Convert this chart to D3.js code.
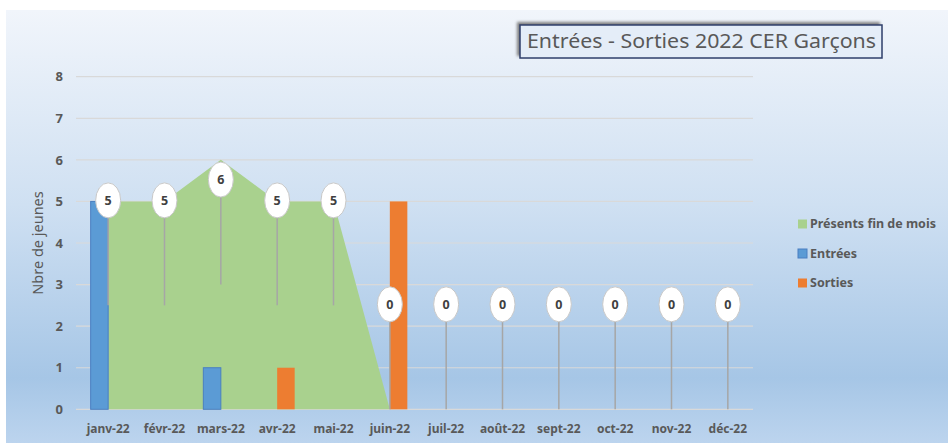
<!DOCTYPE html>
<html>
<head>
<meta charset="utf-8">
<script src="https://cdn.jsdelivr.net/npm/d3@7"></script>
<style>
  html, body { margin: 0; padding: 0; background: #fff; }
  svg { display: block; }
  text { font-family: "Noto Sans", "Open Sans", sans-serif; }
</style>
</head>
<body>
<svg id="chart" width="948" height="443"></svg>
<script>
// data
const months = ["janv-22", "févr-22", "mars-22", "avr-22", "mai-22", "juin-22",
                "juil-22", "août-22", "sept-22", "oct-22", "nov-22", "déc-22"]
const presents = [5, 5, 6, 5, 5, 0, 0, 0, 0, 0, 0, 0]
const entrees  = [5, 0, 1, 0, 0, 0, 0, 0, 0, 0, 0, 0]
const sorties  = [0, 0, 0, 1, 0, 5, 0, 0, 0, 0, 0, 0]
const yTicks = [0, 1, 2, 3, 4, 5, 6, 7, 8]
const seriesNames = ["Présents fin de mois", "Entrées", "Sorties"]
const colors = {"Présents fin de mois": "#a9d18e", "Entrées": "#5b9bd5", "Sorties": "#ed7d31"}

const svg = d3.select("#chart")

// background gradient
let defs = svg.append("defs")
let grad = defs.append("linearGradient")
    .attr("id", "bg").attr("x1", 0).attr("y1", 0).attr("x2", 0).attr("y2", 1)
grad.append("stop").attr("offset", "0%").attr("stop-color", "#f1f5fb")
grad.append("stop").attr("offset", "45%").attr("stop-color", "#cfe0f2")
grad.append("stop").attr("offset", "85%").attr("stop-color", "#a6c6e6")
grad.append("stop").attr("offset", "100%").attr("stop-color", "#bcd4ee")

let blur = defs.append("filter").attr("id", "shadow")
    .attr("x", "-10%").attr("y", "-50%").attr("width", "120%").attr("height", "200%")
blur.append("feGaussianBlur").attr("stdDeviation", 1.5)

svg.append("rect")
    .attr("x", 6).attr("y", 10)
    .attr("width", 942).attr("height", 433)
    .attr("fill", "url(#bg)")

// scales
let x = d3.scaleBand().domain(months).range([80, 756]).padding(0)
let y = d3.scaleLinear().domain([0, 8]).range([409.3, 76.7])
let xBar = d3.scaleBand().domain(["Entrées", "Sorties"]).range([-17.5, 17.5])
let cx = m => x(m) + x.bandwidth() / 2

// gridlines
svg.append("g")
    .selectAll("line")
    .data(yTicks)
    .join("line")
    .attr("x1", 76).attr("x2", 753)
    .attr("y1", d => y(d)).attr("y2", d => y(d))
    .attr("stroke", "#d9d9d9")
    .attr("stroke-width", 1.2)

// y axis labels
let yAxis = d3.axisLeft(y).tickValues(yTicks).tickSize(0).tickPadding(0).tickFormat(d3.format("d"))
let yg = svg.append("g").attr("transform", "translate(63,0)").call(yAxis)
yg.select(".domain").remove()
yg.selectAll("text")
    .attr("fill", "#595959")
    .attr("font-size", 13)
    .attr("font-weight", "bold")

// x axis labels
let xAxis = d3.axisBottom(x).tickSize(0).tickPadding(0)
let xg = svg.append("g").attr("transform", "translate(0,424)").call(xAxis)
xg.select(".domain").remove()
xg.selectAll("text")
    .attr("fill", "#595959")
    .attr("font-size", 12)
    .attr("font-weight", "bold")

// axis title
svg.append("text")
    .attr("transform", "translate(43,243) rotate(-90)")
    .attr("text-anchor", "middle")
    .attr("fill", "#595959")
    .attr("font-size", 14.5)
    .text("Nbre de jeunes")

// area for présents
let areaData = months.map((m, i) => ({m: m, v: presents[i]}))
let area = d3.area()
    .x(d => cx(d.m))
    .y0(y(0))
    .y1(d => y(d.v))
svg.append("path")
    .datum(areaData)
    .attr("d", area)
    .attr("fill", colors["Présents fin de mois"])

// bars
let barData = []
months.forEach((m, i) => {
    if (entrees[i] > 0) barData.push({m: m, s: "Entrées", v: entrees[i]})
    if (sorties[i] > 0) barData.push({m: m, s: "Sorties", v: sorties[i]})
})
svg.append("g")
    .selectAll("rect")
    .data(barData)
    .join("rect")
    .attr("x", d => cx(d.m) + xBar(d.s))
    .attr("width", xBar.bandwidth())
    .attr("y", d => y(d.v))
    .attr("height", d => y(0) - y(d.v))
    .attr("fill", d => colors[d.s])
    .attr("stroke", d => d.s == "Entrées" ? "#4a7fc1" : "none")
    .attr("stroke-width", 1)

// callout labels for présents (anchored at middle of area, dragged up)
let labelOffset = 105
let ry = 17.5
let labels = svg.append("g")
    .selectAll("g")
    .data(areaData)
    .join("g")
    .attr("transform", d => `translate(${cx(d.m)},${y(d.v / 2) - labelOffset})`)

labels.append("line")
    .attr("x1", 0).attr("x2", 0)
    .attr("y1", ry)
    .attr("y2", labelOffset)
    .attr("stroke", "#a6a6a6")
    .attr("stroke-width", 1.5)

labels.append("ellipse")
    .attr("rx", 12.5).attr("ry", ry)
    .attr("fill", "#fff")
    .attr("stroke", "#c8c8c8")
    .attr("stroke-width", 1)

labels.append("text")
    .attr("text-anchor", "middle")
    .attr("dy", "0.36em")
    .attr("fill", "#404040")
    .attr("font-size", 12.5)
    .attr("font-weight", "bold")
    .text(d => d.v)

// legend
let legend = svg.append("g")
    .selectAll("g")
    .data(seriesNames)
    .join("g")
    .attr("transform", (d, i) => `translate(798,${224 + i * 29.5})`)
legend.append("rect")
    .attr("x", 0).attr("y", -4.5)
    .attr("width", 9).attr("height", 9)
    .attr("fill", d => colors[d])
    .attr("stroke", d => d == "Entrées" ? "#4a7fc1" : "none")
legend.append("text")
    .attr("x", 12)
    .attr("dy", "0.35em")
    .attr("fill", "#595959")
    .attr("font-size", 12.5)
    .attr("font-weight", "bold")
    .text(d => d)

// title box
let title = svg.append("g")
title.append("rect")
    .attr("x", 517).attr("y", 22)
    .attr("width", 363).attr("height", 34)
    .attr("fill", "#7f7f7f")
    .attr("filter", "url(#shadow)")
title.append("rect")
    .attr("x", 520).attr("y", 25)
    .attr("width", 362).attr("height", 33)
    .attr("fill", "#e4edf8")
    .attr("stroke", "#2f3f6b")
    .attr("stroke-width", 1.5)
title.append("text")
    .attr("x", 527).attr("y", 48)
    .attr("fill", "#595959")
    .attr("font-size", 20)
    .attr("textLength", 349)
    .attr("lengthAdjust", "spacingAndGlyphs")
    .text("Entrées - Sorties 2022 CER Garçons")
</script>
</body>
</html>
